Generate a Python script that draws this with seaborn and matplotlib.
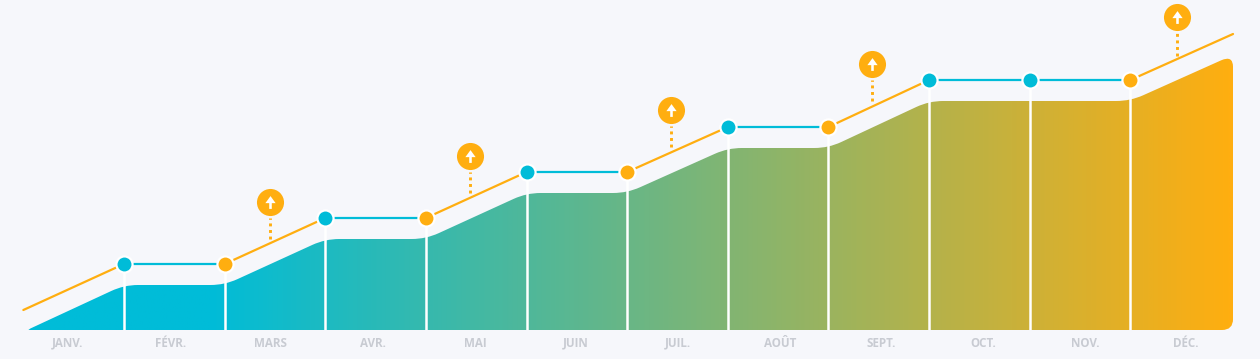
import numpy as np
import pandas as pd
import matplotlib.pyplot as plt
import seaborn as sns
from matplotlib.colors import LinearSegmentedColormap
from matplotlib.patches import PathPatch
from matplotlib.path import Path

# --- data ---
MONTHS = ['JANV.', 'FÉVR.', 'MARS', 'AVR.', 'MAI', 'JUIN', 'JUIL.', 'AOÛT', 'SEPT.', 'OCT.', 'NOV.', 'DÉC.']
MONTH_TICKS = [0.44, 1.46, 2.46, 3.47, 4.49, 5.49, 6.50, 7.52, 8.52, 9.54, 10.55, 11.55]

AREA_X = [0.05, 1, 2, 3, 4, 5, 6, 7, 8, 9, 10, 11, 12.02]
AREA_Y = [0, 45, 45, 91, 91, 137, 137, 182, 182, 229, 229, 229, 275]

LINE_X = [0, 1, 2, 3, 4, 5, 6, 7, 8, 9, 10, 11, 12.02]
LINE_Y = [20, 66, 66, 112, 112, 158, 158, 203, 203, 250, 250, 250, 296]

# points on the line (x index in LINE_X), cyan or amber
CYAN_POINTS = [1, 3, 5, 7, 9, 10]
AMBER_POINTS = [2, 4, 6, 8, 11]

BADGE_X = [2.45, 4.44, 6.44, 8.43, 11.46]
BADGE_Y = [128, 174, 220, 266, 313]
BADGE_LINE_Y = [89, 135, 181, 227, 272]

CYAN = '#00BCD8'
AMBER = '#FFAE10'
BG = '#F6F7FB'
TICK_COLOR = '#C8CBD2'

FIG_W, FIG_H = 1260, 359
X_MIN, X_MAX = -0.232, 12.288
Y_MAX = 330
PX_X = (X_MAX - X_MIN) / FIG_W


def rounded_area(xs, ys):
    """area outline with rounded corners, base closed at y=0"""
    verts = [(xs[0], 0), (xs[0] + 2 * PX_X, 1.5)]
    codes = [Path.MOVETO, Path.LINETO]
    for i in range(1, len(xs) - 1):
        dx1, dy1 = xs[i] - xs[i - 1], ys[i] - ys[i - 1]
        dx2, dy2 = xs[i + 1] - xs[i], ys[i + 1] - ys[i]
        len1 = np.hypot(dx1 / PX_X, dy1)
        len2 = np.hypot(dx2 / PX_X, dy2)
        if dy1 == dy2 == 0:
            continue
        r = 14
        verts += [(xs[i] - dx1 * r / len1, ys[i] - dy1 * r / len1), (xs[i], ys[i]),
                  (xs[i] + dx2 * r / len2, ys[i] + dy2 * r / len2)]
        codes += [Path.LINETO, Path.CURVE3, Path.CURVE3]
    # top right and bottom right corners
    xe, ye = xs[-1], ys[-1]
    slope = (ys[-1] - ys[-2]) / ((xs[-1] - xs[-2]) / PX_X)
    verts += [(xe - 12 * PX_X, ye - 12 * slope), (xe, ye), (xe, ye - 12),
              (xe, 11), (xe, 0), (xe - 11 * PX_X, 0), (xs[0], 0)]
    codes += [Path.LINETO, Path.CURVE3, Path.CURVE3,
              Path.LINETO, Path.CURVE3, Path.CURVE3, Path.LINETO]
    return Path(verts, codes)


sns.set_theme(style='white')
plt.rcParams['font.family'] = ['Open Sans', 'DejaVu Sans']

fig = plt.figure(figsize=(FIG_W / 100, FIG_H / 100), dpi=100, facecolor=BG)
ax = fig.add_axes([0, 29 / FIG_H, 1, 330 / FIG_H], facecolor=BG)

# gradient area, clipped to the rounded outline
cmap = LinearSegmentedColormap.from_list('area', [(0, CYAN), (0.15, CYAN), (1, AMBER)])
grad = ax.imshow(np.linspace(0, 1, 512).reshape(1, -1), cmap=cmap, aspect='auto',
                 extent=(AREA_X[0], AREA_X[-1], 0, max(AREA_Y)), zorder=1)
patch = PathPatch(rounded_area(AREA_X, AREA_Y), transform=ax.transData, fc='none', ec='none')
ax.add_patch(patch)
grad.set_clip_path(patch)

# white month separators, marker down to the base
for i in CYAN_POINTS + AMBER_POINTS:
    ax.plot([LINE_X[i], LINE_X[i]], [0, LINE_Y[i]], color='white', lw=1.8, zorder=2,
            solid_capstyle='butt')

# line, amber where rising and cyan where flat
for i in range(len(LINE_X) - 1):
    seg = pd.DataFrame({'x': LINE_X[i:i + 2], 'y': LINE_Y[i:i + 2]})
    color = CYAN if LINE_Y[i] == LINE_Y[i + 1] else AMBER
    sns.lineplot(data=seg, x='x', y='y', color=color, lw=1.6, ax=ax, zorder=3,
                 estimator=None, sort=False)

for points, color in ((CYAN_POINTS, CYAN), (AMBER_POINTS, AMBER)):
    pts = pd.DataFrame({'x': [LINE_X[i] for i in points], 'y': [LINE_Y[i] for i in points]})
    sns.scatterplot(data=pts, x='x', y='y', color=color, s=135, edgecolor='white',
                    linewidth=1.6, ax=ax, zorder=5)

# badges with dotted stems
for bx, by, ly in zip(BADGE_X, BADGE_Y, BADGE_LINE_Y):
    ax.plot([bx, bx], [ly + 2, by - 16], color=AMBER, lw=2.1, ls=(0, (1, 1.25)), zorder=3)

badges = pd.DataFrame({'x': BADGE_X, 'y': BADGE_Y})
sns.scatterplot(data=badges, x='x', y='y', color=AMBER, s=380, linewidth=0, ax=ax, zorder=5)
arrow = Path([(0, 1), (0.8, -0.1), (0.2, -0.1), (0.2, -1), (-0.2, -1), (-0.2, -0.1), (-0.8, -0.1), (0, 1)],
             [Path.MOVETO] + [Path.LINETO] * 6 + [Path.CLOSEPOLY])
sns.scatterplot(data=badges, x='x', y='y', color='white', s=85, marker=arrow, linewidth=0, ax=ax, zorder=6)

ax.set_xticks(MONTH_TICKS, MONTHS)
ax.set_yticks([])
ax.set_xlim(X_MIN, X_MAX)
ax.set_ylim(0, Y_MAX)
ax.set_xlabel('')
ax.set_ylabel('')
ax.tick_params(axis='x', length=0, pad=11.9, labelsize=8.4, labelcolor=TICK_COLOR)
for label in ax.get_xticklabels():
    label.set_fontweight('bold')
    label.set_verticalalignment('baseline')
sns.despine(ax=ax, left=True, bottom=True)

fig.savefig('out.png', dpi=100, facecolor=BG)
